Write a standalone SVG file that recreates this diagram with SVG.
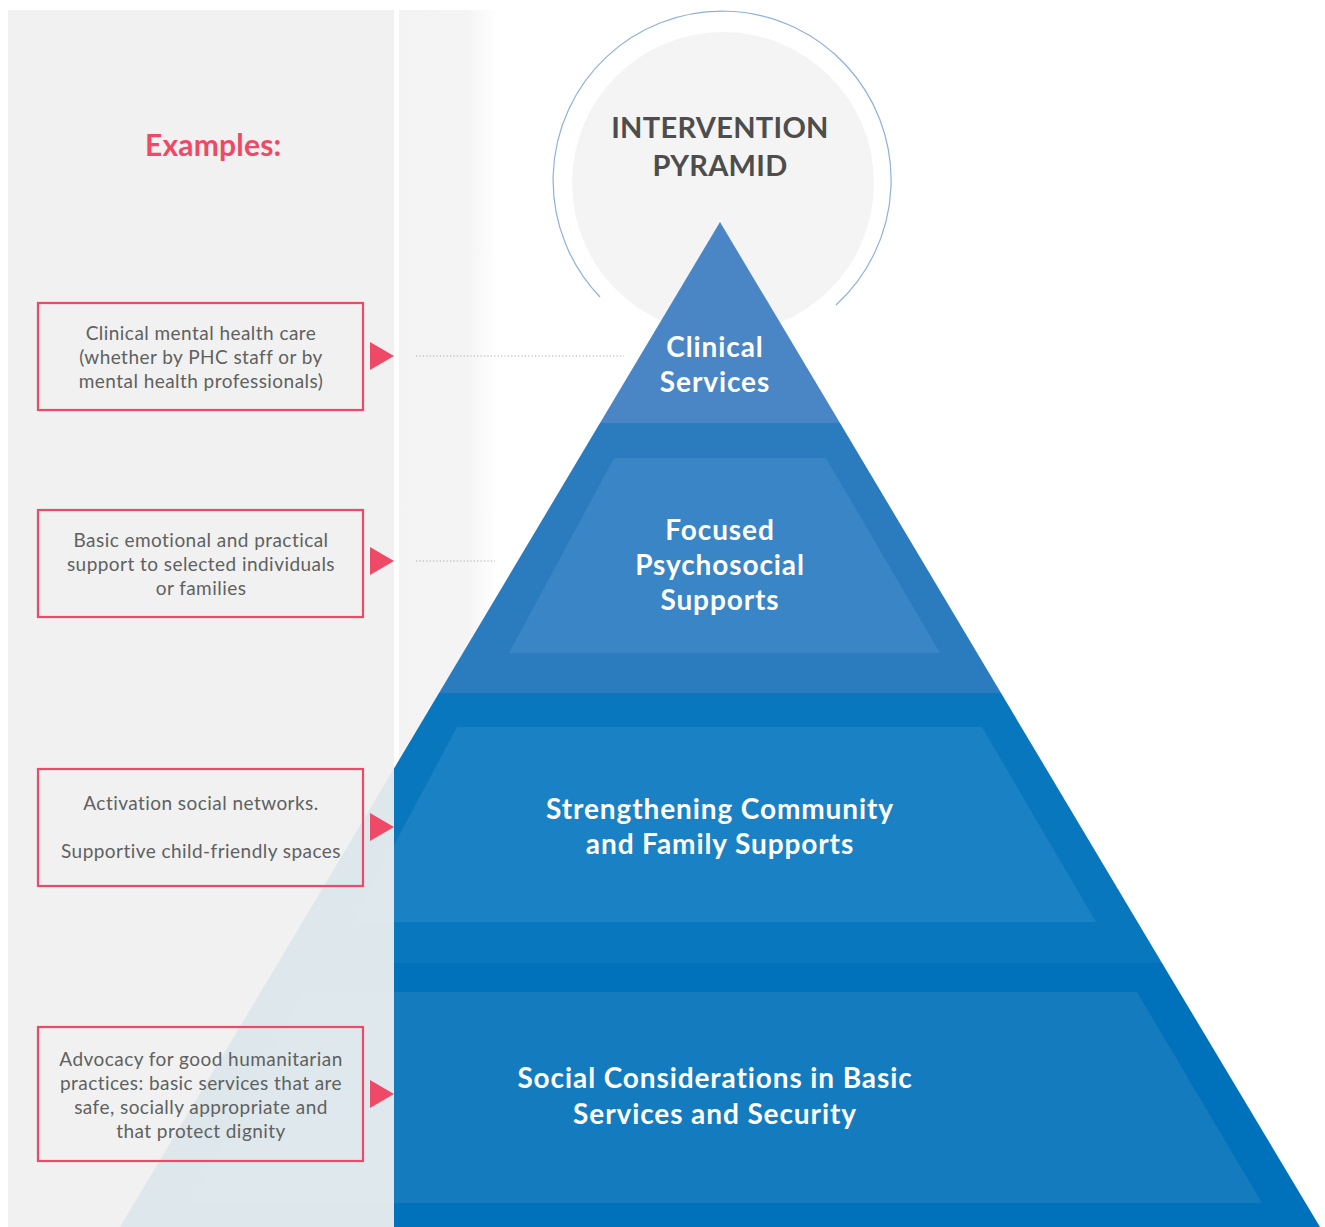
<svg xmlns="http://www.w3.org/2000/svg" width="1325" height="1227" viewBox="0 0 1325 1227">
  <defs>
    <linearGradient id="fadePanel" x1="399" y1="0" x2="496" y2="0" gradientUnits="userSpaceOnUse">
      <stop offset="0" stop-color="#f3f3f3"/>
      <stop offset="0.7" stop-color="#f4f4f4"/>
      <stop offset="1" stop-color="#ffffff"/>
    </linearGradient>
    <polygon id="arrowHead" points="0,-14 24,0 0,14"/>
  </defs>
  <style>
    .panel { fill: #eff0ef; }
    .box { fill: none; stroke: #ee4966; stroke-width: 2.2; }
    .arrow { fill: #ee4966; }
    .guide { stroke: #a9a9a9; stroke-width: 1.2; stroke-dasharray: 1.2 2.2; fill: none; }
    .ex { font-family: Lato, "Liberation Sans", sans-serif; font-size: 19px; letter-spacing: 0.45px; fill: #5f6161; text-anchor: middle; }
    .tier { font-family: Lato, "Liberation Sans", sans-serif; font-weight: 700; font-size: 28px; letter-spacing: 0.9px; fill: #ffffff; text-anchor: middle; }
    .title { font-family: Lato, "Liberation Sans", sans-serif; font-weight: 700; font-size: 29px; letter-spacing: 0.3px; fill: #4d4d4d; text-anchor: middle; }
    .head { font-family: Lato, "Liberation Sans", sans-serif; font-weight: 700; font-size: 30px; letter-spacing: 0.2px; fill: #ee4966; }
  </style>

  <rect width="1325" height="1227" fill="#ffffff"/>

  <!-- secondary backdrop strip, fading to white -->
  <rect x="399" y="10" width="97" height="1217" fill="url(#fadePanel)"/>

  <!-- title badge -->
  <g id="title-badge">
    <circle cx="723" cy="183" r="151" fill="#f4f4f4"/>
    <path d="M 600 297 A 169 169 0 1 1 836 305" fill="none" stroke="#8eb0dd" stroke-width="1.2"/>
    <text class="title" x="720" y="138">INTERVENTION</text>
    <text class="title" x="720" y="176">PYRAMID</text>
  </g>

  <!-- pyramid tiers -->
  <g id="tier-clinical">
    <polygon points="720,222 840,423 600,423" fill="#4a86c5"/>
  </g>
  <g id="tier-focused">
    <polygon points="600,423 840,423 1001,693 439,693" fill="#2b7bbf"/>
    <polygon points="614,458 826,458 940,653 509,653" fill="#3a85c5"/>
  </g>
  <g id="tier-community">
    <polygon points="439,693 1001,693 1162,963 278,963" fill="#0877be"/>
    <polygon points="457,727 982,727 1096,922 353,922" fill="#1a82c4"/>
  </g>
  <g id="tier-basic">
    <polygon points="278,963 1162,963 1320,1227 120,1227" fill="#0071bb"/>
    <polygon points="303,992 1137,992 1262,1203 190,1203" fill="#147bbf"/>
  </g>

  <!-- examples column laid over the pyramid base -->
  <rect class="panel" x="8" y="10" width="386" height="1217" opacity="0.93"/>

  <text class="head" x="145" y="156">Examples:</text>

  <g id="example-clinical">
    <rect class="box" x="38" y="303" width="325" height="107"/>
    <text class="ex" x="201" y="340">Clinical mental health care</text>
    <text class="ex" x="201" y="364">(whether by PHC staff or by</text>
    <text class="ex" x="201" y="388">mental health professionals)</text>
  </g>
  <g id="example-focused">
    <rect class="box" x="38" y="510" width="325" height="107"/>
    <text class="ex" x="201" y="547">Basic emotional and practical</text>
    <text class="ex" x="201" y="571">support to selected individuals</text>
    <text class="ex" x="201" y="595">or families</text>
  </g>
  <g id="example-community">
    <rect class="box" x="38" y="769" width="325" height="117"/>
    <text class="ex" x="201" y="810">Activation social networks.</text>
    <text class="ex" x="201" y="858">Supportive child-friendly spaces</text>
  </g>
  <g id="example-basic">
    <rect class="box" x="38" y="1027" width="325" height="134"/>
    <text class="ex" x="201" y="1066">Advocacy for good humanitarian</text>
    <text class="ex" x="201" y="1090">practices: basic services that are</text>
    <text class="ex" x="201" y="1114">safe, socially appropriate and</text>
    <text class="ex" x="201" y="1138">that protect dignity</text>
  </g>

  <!-- pointers from examples to tiers -->
  <g id="connectors">
    <use href="#arrowHead" class="arrow" x="370" y="356"/>
    <use href="#arrowHead" class="arrow" x="370" y="561"/>
    <use href="#arrowHead" class="arrow" x="370" y="827"/>
    <use href="#arrowHead" class="arrow" x="370" y="1094"/>
    <line class="guide" x1="416" y1="356" x2="624" y2="356"/>
    <line class="guide" x1="416" y1="561" x2="495" y2="561"/>
  </g>

  <!-- tier labels -->
  <text class="tier" x="715" y="357">Clinical</text>
  <text class="tier" x="715" y="392">Services</text>
  <text class="tier" x="720" y="540">Focused</text>
  <text class="tier" x="720" y="575">Psychosocial</text>
  <text class="tier" x="720" y="610">Supports</text>
  <text class="tier" x="720" y="819">Strengthening Community</text>
  <text class="tier" x="720" y="854">and Family Supports</text>
  <text class="tier" x="715" y="1088">Social Considerations in Basic</text>
  <text class="tier" x="715" y="1124">Services and Security</text>
</svg>
